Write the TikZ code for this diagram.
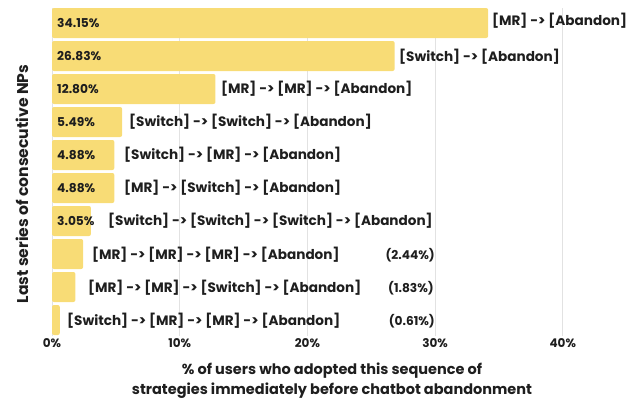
\documentclass[tikz,border=0pt]{standalone}
\usepackage{fontspec}
\setmainfont{Poppins}
\definecolor{barfill}{HTML}{F8DC76}
\definecolor{ink}{HTML}{1E1E1E}
\definecolor{gridc}{HTML}{E2E2E2}
\begin{document}
\begin{tikzpicture}[x=1pt,y=-1pt,
  bar/.style={fill=barfill,draw=none,rounded corners=2pt},
  grid line/.style={draw=gridc,line width=0.8pt},
  pct/.style={anchor=west,inner sep=0pt,text=ink,font=\fontsize{12.2}{14}\selectfont\bfseries},
  seq/.style={anchor=west,inner sep=0pt,text=ink,font=\fontsize{13.6}{15}\selectfont\bfseries},
  side/.style={anchor=east,inner sep=0pt,text=ink,font=\fontsize{12.2}{14}\selectfont\bfseries},
  tick/.style={anchor=center,inner sep=0pt,text=ink,font=\fontsize{12}{14}\selectfont\bfseries},
  axtitle/.style={inner sep=0pt,text=ink,font=\fontsize{14.5}{20}\selectfont\bfseries,align=center},
  ytitle/.style={inner sep=0pt,text=ink,font=\fontsize{15.6}{18}\selectfont\bfseries}]
\useasboundingbox (0,0) rectangle (628,399);
% grid
\foreach \k in {0,...,4}{
  \draw[grid line] ({52+127.7*\k},8) -- ({52+127.7*\k},336);
  \pgfmathsetmacro{\lab}{int(10*\k)}
  \node[tick] (t\k) at ({52+127.7*\k},343) {\lab\%};
}
% bars
\foreach \i/\v in {1/34.15,2/26.83,3/12.80,4/5.49,5/4.88,6/4.88,7/3.05,8/2.44,9/1.83,10/0.61}{
  \fill[bar] (52,{8+33*(\i-1)}) rectangle ({52+12.77*\v},{38+33*(\i-1)});
}
% inside percentages
\node[pct] (p1) at (57,23) {34.15\%};
\node[pct] (p2) at (57,56) {26.83\%};
\node[pct] (p3) at (57,89) {12.80\%};
\node[pct] (p4) at (57,122) {5.49\%};
\node[pct] (p5) at (57,155) {4.88\%};
\node[pct] (p6) at (57,188) {4.88\%};
\node[pct] (p7) at (57,221) {3.05\%};
% sequence labels
\node[seq] (s1) at (492,21) {[MR] -> [Abandon]};
\node[seq] (s2) at (399,57) {[Switch] -> [Abandon]};
\node[seq] (s3) at (221,89) {[MR] -> [MR] -> [Abandon]};
\node[seq] (s4) at (129,122) {[Switch] -> [Switch] -> [Abandon]};
\node[seq] (s5) at (124,155) {[Switch] -> [MR] -> [Abandon]};
\node[seq] (s6) at (124,188) {[MR] -> [Switch] -> [Abandon]};
\node[seq] (s7) at (108,221) {[Switch] -> [Switch] -> [Switch] -> [Abandon]};
\node[seq] (s8) at (92,255) {[MR] -> [MR] -> [MR] -> [Abandon]};
\node[seq] (s9) at (88,288) {[MR] -> [MR] -> [Switch] -> [Abandon]};
\node[seq] (s10) at (67,321) {[Switch] -> [MR] -> [MR] -> [Abandon]};
% side percentages
\node[side] (q8) at (435,255) {(2.44\%)};
\node[side] (q9) at (434,288) {(1.83\%)};
\node[side] (q10) at (435,321) {(0.61\%)};
% axis titles
\node[ytitle,rotate=90] (ytitle) at (22,184) {Last series of consecutive NPs};
\node[axtitle] (xtitle) at (332,380.5) {\% of users who adopted this sequence of\\strategies immediately before chatbot abandonment};
\end{tikzpicture}
\end{document}
